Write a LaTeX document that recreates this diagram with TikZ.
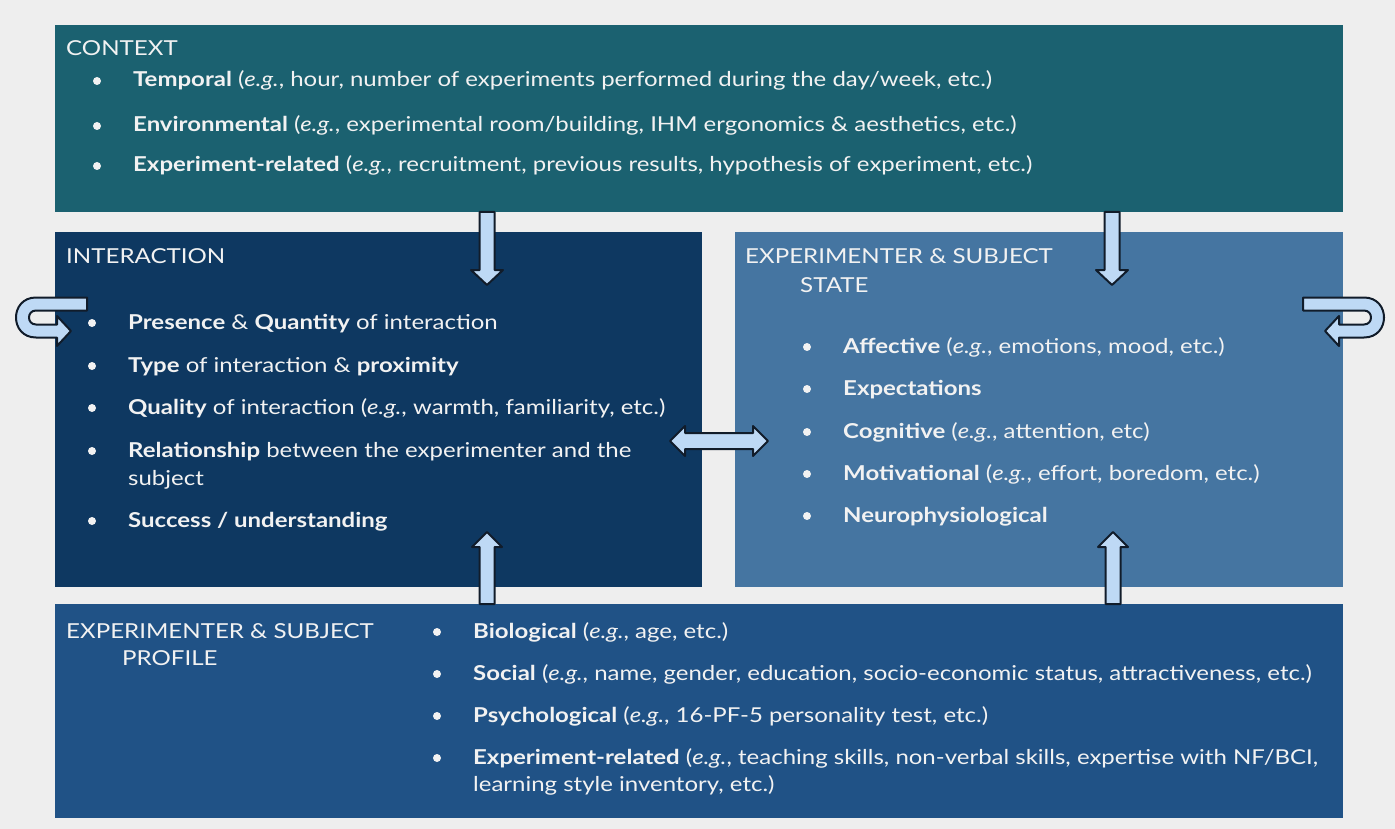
\documentclass[tikz,border=0pt]{standalone}
\usepackage{fontspec}
\setmainfont{Lato}[FakeStretch=1.17]
\definecolor{bgc}{HTML}{EEEEEE}
\definecolor{ctxc}{HTML}{1B6170}
\definecolor{intc}{HTML}{0E3861}
\definecolor{stac}{HTML}{4575A1}
\definecolor{proc}{HTML}{205286}
\definecolor{arrfill}{HTML}{BED9F5}
\definecolor{arrline}{HTML}{111C2A}
\definecolor{txt}{HTML}{F2F2F2}
\tikzset{
  panel/.style={draw=none, inner sep=0, anchor=north west},
  ttl/.style={anchor=base west, inner sep=0, text=txt, font=\fontsize{20.6}{26}\selectfont},
  itm/.style={anchor=base west, inner sep=0, text=txt, font=\fontsize{20.5}{26}\selectfont},
  dot/.style={circle, fill=txt, inner sep=0, minimum size=8},
  blk/.style={fill=arrfill, draw=arrline, line width=2, line join=round}
}
\begin{document}
\begin{tikzpicture}[x=1pt,y=-1pt]
\fill[bgc] (0,0) rectangle (1395,829);
\useasboundingbox (0,0) rectangle (1395,829);
% panels
\node[panel, fill=ctxc, minimum width=1288, minimum height=187] (ctx) at (55,25) {};
\node[panel, fill=intc, minimum width=647, minimum height=355] (int) at (55,232) {};
\node[panel, fill=stac, minimum width=608, minimum height=355] (sta) at (735,232) {};
\node[panel, fill=proc, minimum width=1288, minimum height=214] (pro) at (55,604) {};
% CONTEXT
\node[ttl] (ctxt) at (66,56) {CONTEXT};
\node[dot] (c1d) at (97,81) {};
\node[itm] (c1) at (133,87) {\textbf{Temporal} (\textit{e.g.}, hour, number of experiments performed during the day/week, etc.)};
\node[dot] (c2d) at (97,126) {};
\node[itm] (c2) at (133,132) {\textbf{Environmental} (\textit{e.g.}, experimental room/building, IHM ergonomics \& aesthetics, etc.)};
\node[dot] (c3d) at (97,166) {};
\node[itm] (c3) at (133,172) {\textbf{Experiment-related} (\textit{e.g.}, recruitment, previous results, hypothesis of experiment, etc.)};
% INTERACTION
\node[ttl] (intt) at (66,264) {INTERACTION};
\node[dot] (i1d) at (92,323) {};
\node[itm] (i1) at (128,329) {\textbf{Presence} \& \textbf{Quantity} of interaction};
\node[dot] (i2d) at (92,366) {};
\node[itm] (i2) at (128,372) {\textbf{Type} of interaction \& \textbf{proximity}};
\node[dot] (i3d) at (92,408) {};
\node[itm] (i3) at (128,414) {\textbf{Quality} of interaction (\textit{e.g.}, warmth, familiarity, etc.)};
\node[dot] (i4d) at (92,451) {};
\node[itm] (i4) at (128,457) {\textbf{Relationship} between the experimenter and the};
\node[itm] (i4b) at (128,485) {subject};
\node[dot] (i5d) at (92,521) {};
\node[itm] (i5) at (128,527) {\textbf{Success / understanding}};
% STATE
\node[ttl] (stat) at (745,264) {EXPERIMENTER \& SUBJECT};
\node[ttl] (stat2) at (800,292) {STATE};
\node[dot] (s1d) at (807,347) {};
\node[itm] (s1) at (843,353) {\textbf{Affective} (\textit{e.g.}, emotions, mood, etc.)};
\node[dot] (s2d) at (807,389) {};
\node[itm] (s2) at (843,395) {\textbf{Expectations}};
\node[dot] (s3d) at (807,432) {};
\node[itm] (s3) at (843,438) {\textbf{Cognitive} (\textit{e.g.}, attention, etc)};
\node[dot] (s4d) at (807,474) {};
\node[itm] (s4) at (843,480) {\textbf{Motivational} (\textit{e.g.}, effort, boredom, etc.)};
\node[dot] (s5d) at (807,516) {};
\node[itm] (s5) at (843,522) {\textbf{Neurophysiological}};
% PROFILE
\node[ttl] (prot) at (66,638) {EXPERIMENTER \& SUBJECT};
\node[ttl] (prot2) at (122,665) {PROFILE};
\node[dot] (p1d) at (437,632) {};
\node[itm] (p1) at (473,638) {\textbf{Biological} (\textit{e.g.}, age, etc.)};
\node[dot] (p2d) at (437,674) {};
\node[itm] (p2) at (473,680) {\textbf{Social} (\textit{e.g.}, name, gender, education, socio-economic status, attractiveness, etc.)};
\node[dot] (p3d) at (437,716) {};
\node[itm] (p3) at (473,722) {\textbf{Psychological} (\textit{e.g.}, 16-PF-5 personality test, etc.)};
\node[dot] (p4d) at (437,758) {};
\node[itm] (p4) at (473,764) {\textbf{Experiment-related} (\textit{e.g.}, teaching skills, non-verbal skills, expertise with NF/BCI,};
\node[itm] (p4b) at (473,791) {learning style inventory, etc.)};
% block arrows: context -> interaction / state
\draw[blk, shift={(487,212)}] (-7.5,0) -- (7.5,0) -- (7.5,58) -- (16,58) -- (0,73) -- (-16,58) -- (-7.5,58) -- cycle;
\draw[blk, shift={(1112,212)}] (-7.5,0) -- (7.5,0) -- (7.5,58) -- (16,58) -- (0,73) -- (-16,58) -- (-7.5,58) -- cycle;
% profile -> interaction / state
\draw[blk, shift={(487,604)}] (-7.5,0) -- (7.5,0) -- (7.5,-57) -- (15,-57) -- (0,-72) -- (-15,-57) -- (-7.5,-57) -- cycle;
\draw[blk, shift={(1113,604)}] (-7.5,0) -- (7.5,0) -- (7.5,-57) -- (15,-57) -- (0,-72) -- (-15,-57) -- (-7.5,-57) -- cycle;
% double arrow interaction <-> state
\draw[blk] (670,441) -- (685,426) -- (685,433) -- (753,433) -- (753,426) -- (768,441) -- (753,456) -- (753,449) -- (685,449) -- (685,456) -- cycle;
% self loops
\draw[blk] (87,297.5) -- (36,297.5) .. controls (9.33,297.5) and (9.33,337.5) .. (36,337.5) -- (57,337.5) -- (57,346) -- (71,331) -- (57,316) -- (57,324.5) -- (36,324.5) .. controls (26.67,324.5) and (26.67,310.5) .. (36,310.5) -- (87,310.5) -- cycle;
\draw[blk] (1303,297.5) -- (1364,297.5) .. controls (1390.67,297.5) and (1390.67,337.5) .. (1364,337.5) -- (1339,337.5) -- (1339,346) -- (1325,331) -- (1339,316) -- (1339,324.5) -- (1364,324.5) .. controls (1373.33,324.5) and (1373.33,310.5) .. (1364,310.5) -- (1303,310.5) -- cycle;
\end{tikzpicture}
\end{document}
